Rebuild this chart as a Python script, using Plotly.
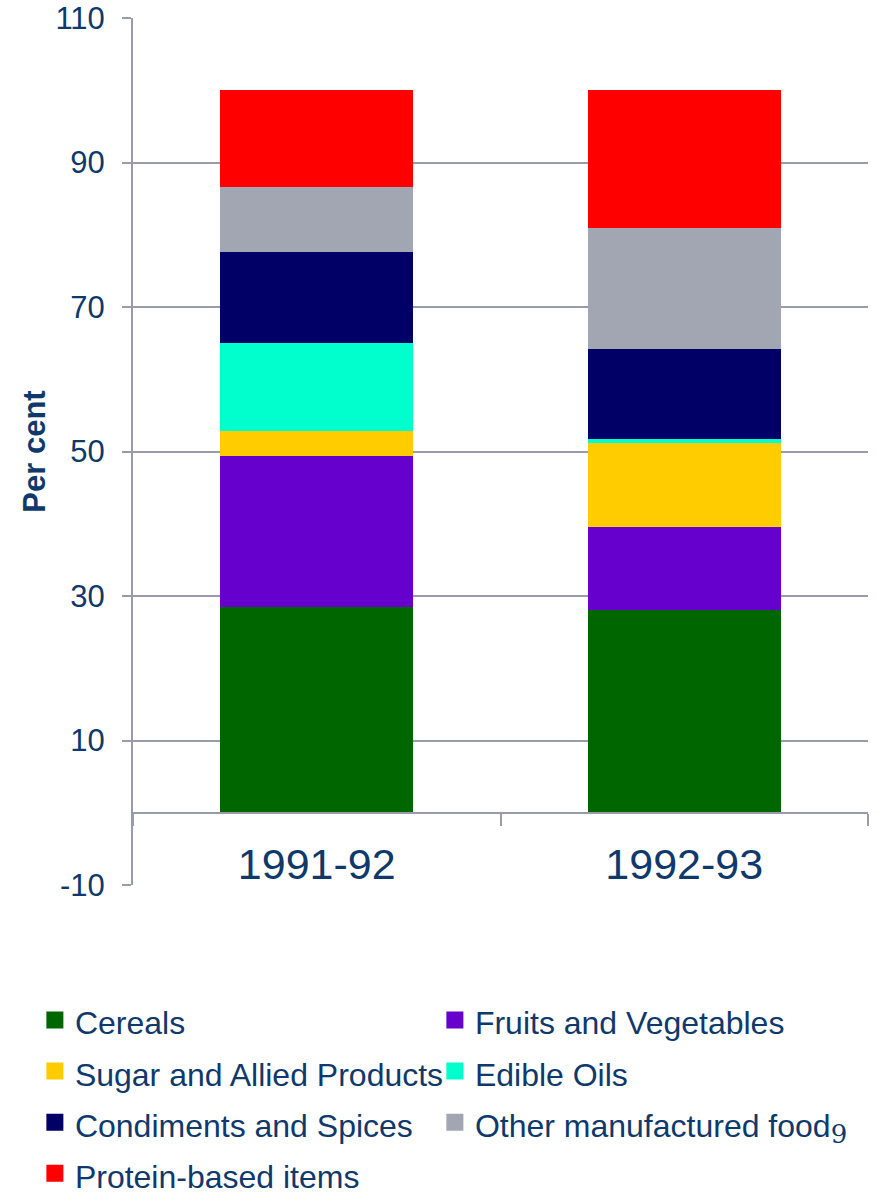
import plotly.graph_objects as go

years = ["1991-92", "1992-93"]

cereals = [28.5, 28.1]
fruits_veg = [20.9, 11.5]
sugar = [3.4, 11.6]
edible_oils = [12.2, 0.6]
condiments = [12.6, 12.4]
other_food = [9.0, 16.7]
protein = [13.4, 19.1]

y_ticks = [-10, 10, 30, 50, 70, 90, 110]
y_tick_labels = ["-10", "10", "30", "50", "70", "90", "110"]

series = [
    ("Cereals", cereals, "#006600"),
    ("Fruits and Vegetables", fruits_veg, "#6600CC"),
    ("Sugar and Allied Products", sugar, "#FFCC00"),
    ("Edible Oils", edible_oils, "#00FFCC"),
    ("Condiments and Spices", condiments, "#000066"),
    ("Other manufactured food"
     '<sub><span style="font-size:26px;font-family:DejaVu Serif">9</span></sub>',
     other_food, "#A2A5B2"),
    ("Protein-based items", protein, "#FF0000"),
]

TEXT = "#0F396B"
GRID = "#979BAC"
FONT = "Liberation Sans, Arial, sans-serif"

fig = go.Figure()

# stacked bars (legend is drawn by the proxy entries below)
for name, vals, color in series:
    fig.add_trace(
        go.Bar(
            x=years,
            y=vals,
            name=name,
            marker=dict(color=color, line_width=0),
            width=0.525,
            showlegend=False,
        )
    )

# legend-only entries, so the swatches can be a bit bigger
for name, vals, color in series:
    fig.add_trace(
        go.Bar(
            x=years,
            y=[None] * len(vals),
            name=f'<span style="font-size:32px">{name}</span>',
            marker=dict(color=color, line=dict(color=color, width=5)),
            hoverinfo="skip",
        )
    )

fig.update_layout(
    barmode="stack",
    width=885,
    height=1197,
    margin=dict(l=133, r=17, t=18, b=312, autoexpand=False),
    plot_bgcolor="white",
    paper_bgcolor="white",
    font=dict(family=FONT, color=TEXT, size=30),
    legend=dict(
        orientation="h",
        x=-0.1335,
        xanchor="left",
        y=-0.1205,
        yanchor="top",
        entrywidth=355,
        font=dict(size=37, color=TEXT),
        traceorder="normal",
    ),
    xaxis=dict(
        anchor="free",
        position=10 / 120,
        automargin=False,
        showline=True,
        linecolor=GRID,
        linewidth=2,
        ticks="outside",
        tickson="boundaries",
        ticklen=12,
        tickwidth=2,
        tickcolor=GRID,
        tickfont=dict(size=43, color=TEXT),
        ticklabelstandoff=14,
        showgrid=False,
    ),
    yaxis=dict(
        range=[-10, 110],
        tickvals=y_ticks,
        ticktext=y_tick_labels,
        automargin=False,
        showline=True,
        linecolor=GRID,
        linewidth=2,
        ticks="outside",
        ticklen=9,
        tickwidth=2,
        tickcolor=GRID,
        gridcolor=GRID,
        gridwidth=2,
        zeroline=False,
        tickfont=dict(size=31, color=TEXT),
        ticklabelstandoff=11,
        title=dict(
            text="<b>Per cent</b>",
            font=dict(size=31, color=TEXT),
            standoff=1,
        ),
    ),
)

# page without body margin; let the long legend label run past its box
post_js = (
    "document.body.style.margin='0';"
    "document.querySelectorAll('g.legend g.scrollbox')"
    ".forEach(function(e){e.removeAttribute('clip-path');});"
)

fig.write_html(
    "out.html",
    config={"displayModeBar": False},
    post_script=post_js,
)
